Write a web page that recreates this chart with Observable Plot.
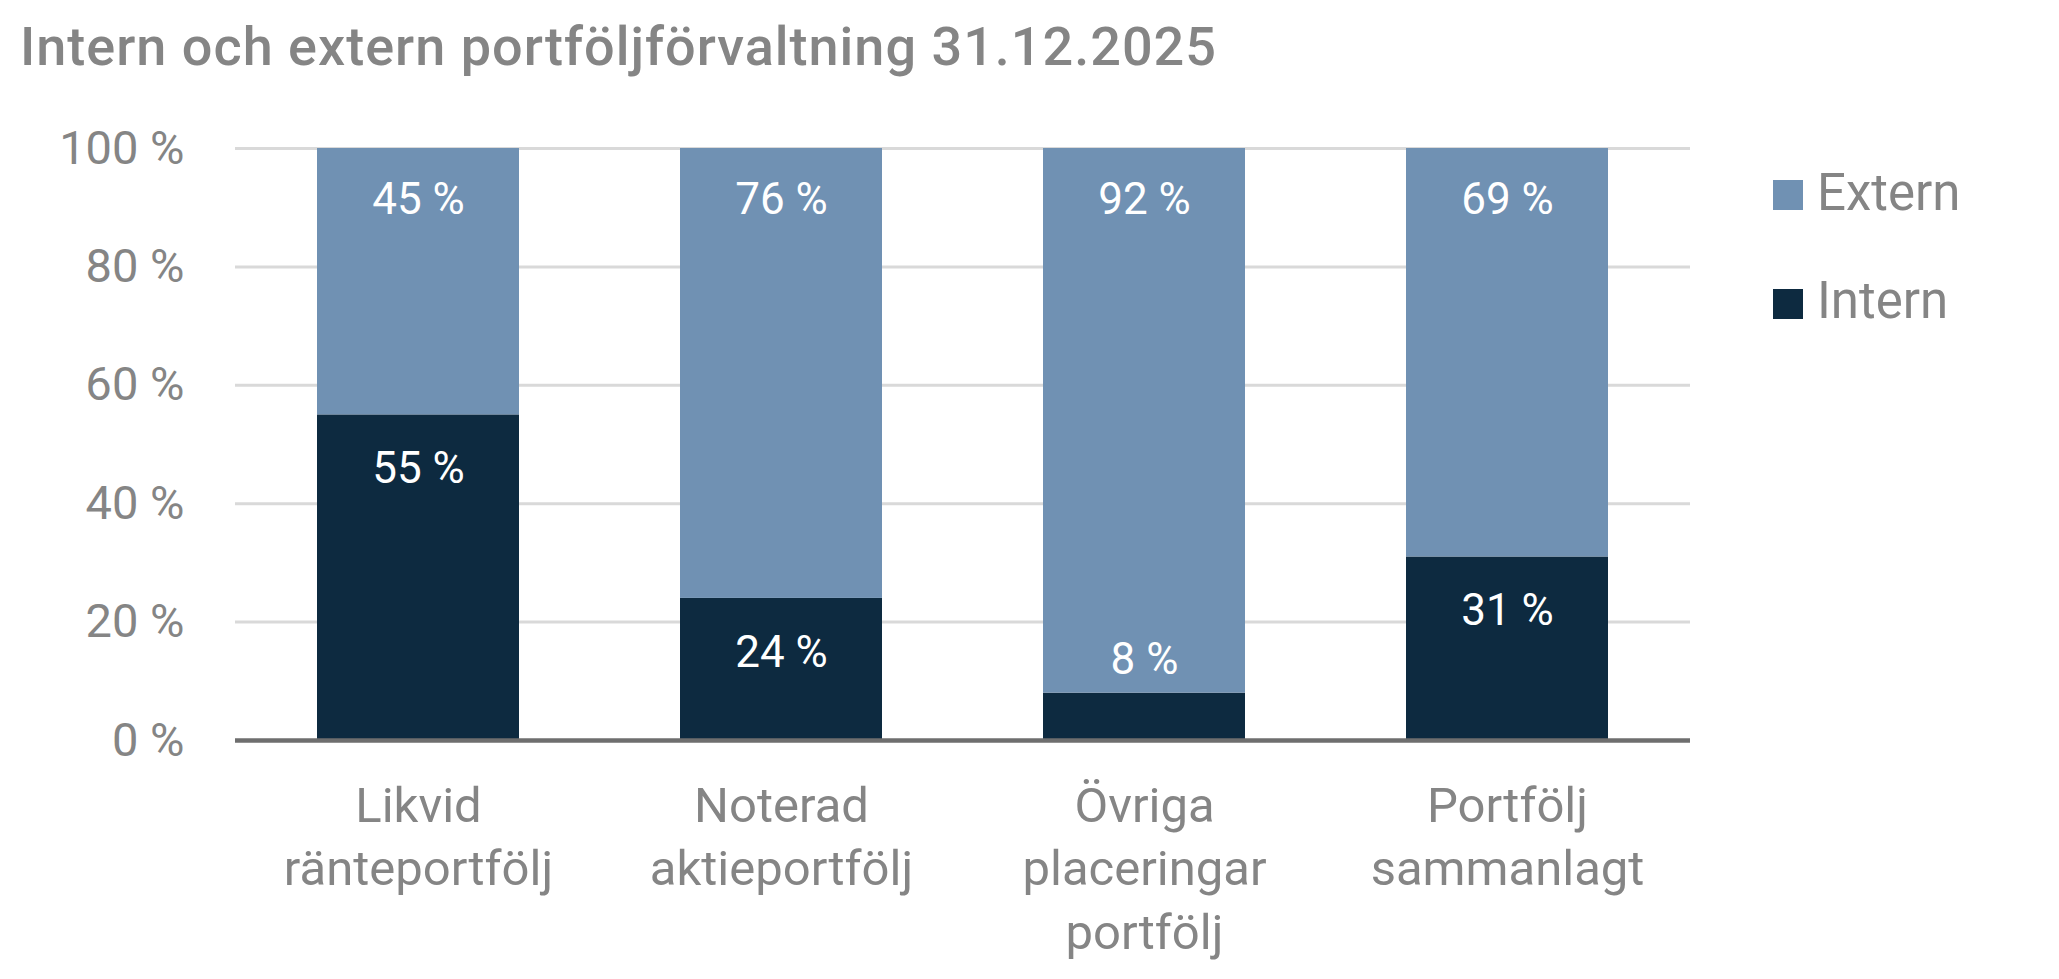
<!DOCTYPE html>
<html>
<head>
<meta charset="utf-8">
<script src="https://cdn.jsdelivr.net/npm/d3@7"></script>
<script src="https://cdn.jsdelivr.net/npm/@observablehq/plot@0.6"></script>
<style>
  html, body { margin: 0; padding: 0; background: #fff; }
  body { width: 2059px; height: 979px; position: relative; overflow: hidden; font-family: Roboto, "Noto Sans", sans-serif; }
  #title { position: absolute; left: 20px; top: 20px; font-size: 54px; line-height: 1; font-weight: 500; letter-spacing: 1px; color: #858585; white-space: nowrap; }
  #chart { position: absolute; left: 0; top: 100px; }
  .lt { position: absolute; left: 1817px; font-size: 51px; line-height: 1; color: #858585; white-space: nowrap; }
  .sq { position: absolute; left: 1773px; width: 30px; height: 30px; }
</style>
</head>
<body>
<div id="title">Intern och extern portföljförvaltning 31.12.2025</div>
<div id="chart"></div>
<div class="sq" style="top:180px;background:#7091b3"></div>
<div class="lt" style="top:167px">Extern</div>
<div class="sq" style="top:289px;background:#0d2a40"></div>
<div class="lt" style="top:275px">Intern</div>
<script>
const categories = ["Likvid\nränteportfölj", "Noterad\naktieportfölj", "Övriga\nplaceringar\nportfölj", "Portfölj\nsammanlagt"];
const internValues = [55, 24, 8, 31];
const externValues = [45, 76, 92, 69];
const seriesNames = ["Intern", "Extern"];
const seriesColors = ["#0d2a40", "#7091b3"];
const yTicks = [0, 20, 40, 60, 80, 100];

const data = [];
categories.forEach((c, i) => {
  data.push({cat: c, series: "Intern", value: internValues[i]});
  data.push({cat: c, series: "Extern", value: externValues[i]});
});
const internData = categories.map((c, i) => ({cat: c, value: internValues[i]}));
const externData = categories.map((c, i) => ({cat: c, value: externValues[i], top: internValues[i] + externValues[i]}));

const chart = Plot.plot({
  width: 2059,
  height: 879,
  marginTop: 48,
  marginBottom: 239,
  marginLeft: 235,
  marginRight: 369,
  style: {fontFamily: "Roboto, 'Noto Sans', sans-serif", background: "#fff"},
  x: {domain: categories, paddingInner: 0.443, paddingOuter: 0.2215, axis: null},
  y: {domain: [0, 100], ticks: yTicks, tickFormat: d => d + " %", tickSize: 0, tickPadding: 51, label: null},
  color: {domain: seriesNames, range: seriesColors},
  marks: [
    Plot.ruleY(yTicks.filter(d => d > 0), {stroke: "#d9d9d9", strokeWidth: 3}),
    Plot.barY(data, {x: "cat", y: "value", fill: "series", order: seriesNames}),
    Plot.ruleY([0], {stroke: "#6e6e6e", strokeWidth: 4.5}),
    Plot.axisY({ticks: yTicks, tickFormat: d => d + " %", tickSize: 0, tickPadding: 51, fontSize: 47, fill: "#858585", label: null}),
    Plot.text(externData, {x: "cat", y: "top", text: d => d.value + " %", dy: 51, fill: "#fff", fontSize: 44}),
    Plot.text(internData, {x: "cat", y: "value", text: d => d.value + " %", fill: "#fff", fontSize: 44,
      filter: d => d.value >= 15, dy: 54}),
    Plot.text(internData, {x: "cat", y: "value", text: d => d.value + " %", fill: "#fff", fontSize: 44,
      filter: d => d.value < 15, dy: -33}),
    Plot.text(categories, {x: d => d, frameAnchor: "bottom", lineAnchor: "top", dy: 36, text: d => d, fontSize: 49, lineHeight: 1.3, fill: "#858585"})
  ]
});
document.getElementById("chart").appendChild(chart);
</script>
</body>
</html>
